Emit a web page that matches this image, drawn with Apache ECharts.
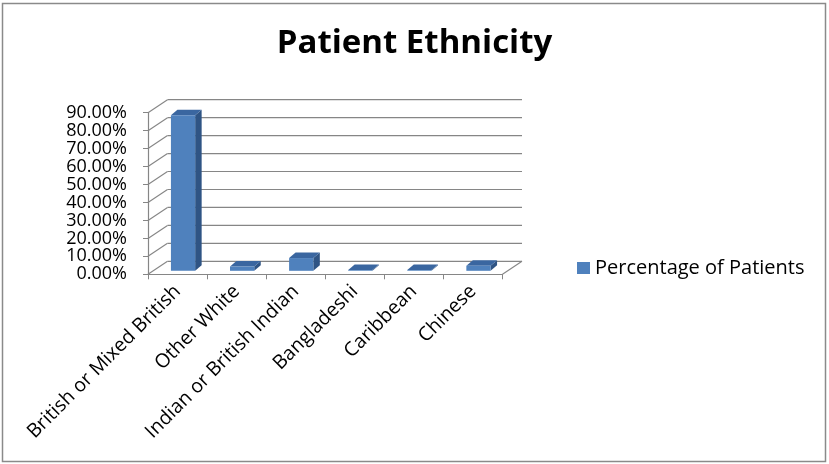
<!DOCTYPE html>
<html>
<head>
<meta charset="utf-8">
<script src="https://cdn.jsdelivr.net/npm/echarts@6/dist/echarts.min.js"></script>
<style>
html,body{margin:0;padding:0;background:#fff;}
#chart{width:829px;height:464px;}
</style>
</head>
<body>
<div id="chart"></div>
<script>
const categories = ['British or Mixed British', 'Other White', 'Indian or British Indian', 'Bangladeshi', 'Caribbean', 'Chinese'];
const values = [86.6, 2.4, 7.1, 0.4, 0.4, 2.8];
const yTicks = [0, 10, 20, 30, 40, 50, 60, 70, 80, 90];
const seriesName = 'Percentage of Patients';
const titleText = 'Patient Ethnicity';

const FONT = '"Open Sans", sans-serif';
const GRAY = '#868686';
// depth vector of the floor / walls (pixels)
const DX = 19.5, DY = -13;
// bar depth placement (pixels)
const BF = [5.5, -3.5];   // front face offset
const BB = [12, -9];      // back face offset

const chart = echarts.init(document.getElementById('chart'), null, {renderer: 'canvas'});

function wallItem(params, api) {
  const cs = params.coordSys;
  const v = api.value(1);
  const y = api.coord([0, v])[1];
  const x0 = cs.x, x1 = cs.x + cs.width;
  const style = {stroke: GRAY, lineWidth: 1.2, fill: null};
  const children = [
    {type: 'line', shape: {x1: x0, y1: y, x2: x0 + DX, y2: y + DY}, style: style},
    {type: 'line', shape: {x1: x0 + DX, y1: y + DY, x2: x1 + DX, y2: y + DY}, style: style}
  ];
  if (v === 0) {
    children.push({type: 'line', shape: {x1: x1, y1: y, x2: x1 + DX, y2: y + DY}, style: style});
  }
  return {type: 'group', children: children};
}

function barItem(params, api) {
  const i = api.value(0), v = api.value(1);
  const base = api.coord([i, 0]);
  const top = api.coord([i, v]);
  const band = api.size([1, 0])[0];
  const w = band * 0.41;
  const xl = base[0] - w / 2, xr = base[0] + w / 2;
  const yb = base[1], yt = top[1];
  const f = BF, b = BB;
  return {
    type: 'group',
    children: [
      {type: 'polygon', shape: {points: [
        [xr + f[0], yt + f[1]], [xr + b[0], yt + b[1]], [xr + b[0], yb + b[1]], [xr + f[0], yb + f[1]]
      ]}, style: {fill: '#2f5484'}},
      {type: 'polygon', shape: {points: [
        [xl + f[0], yt + f[1]], [xr + f[0], yt + f[1]], [xr + b[0], yt + b[1]], [xl + b[0], yt + b[1]]
      ]}, style: {fill: '#3a66a0'}},
      {type: 'rect', shape: {x: xl + f[0], y: yt + f[1], width: w, height: yb - yt}, style: {fill: '#4f81bd'}}
    ]
  };
}

const option = {
  animation: false,
  backgroundColor: '#fff',
  title: {
    text: titleText,
    left: 'center',
    top: 22,
    textStyle: {fontFamily: FONT, fontSize: 33, fontWeight: 'bold', color: '#000'}
  },
  legend: {
    data: [{name: seriesName, icon: 'rect'}],
    left: 572,
    top: 253,
    itemWidth: 13,
    itemHeight: 12,
    textStyle: {fontFamily: FONT, fontSize: 20, color: '#000'}
  },
  graphic: [{
    type: 'rect',
    shape: {x: 2.5, y: 3.5, width: 823, height: 458},
    style: {fill: null, stroke: '#8a8a8a', lineWidth: 1.5},
    silent: true,
    z: -10
  }],
  grid: {left: 148, top: 112.7, width: 354.5, height: 161.6},
  xAxis: {
    type: 'category',
    data: categories,
    axisLine: {lineStyle: {color: GRAY, width: 1.2}},
    axisTick: {show: true, length: 5, lineStyle: {color: GRAY}},
    axisLabel: {rotate: 45, interval: 0, margin: 14, fontFamily: FONT, fontSize: 19.5, color: '#000'},
    splitLine: {show: false}
  },
  yAxis: {
    type: 'value',
    min: 0,
    max: 90,
    interval: 10,
    axisLine: {show: true, lineStyle: {color: GRAY, width: 1.2}},
    axisTick: {show: true, length: 5, lineStyle: {color: GRAY}},
    axisLabel: {
      margin: 21,
      fontFamily: FONT,
      fontSize: 18,
      color: '#000',
      formatter: function (v) { return v.toFixed(2) + '%'; }
    },
    splitLine: {show: false}
  },
  series: [
    {
      type: 'custom',
      name: 'walls',
      renderItem: wallItem,
      data: yTicks.map(function (v) { return [0, v]; }),
      silent: true,
      z: 1
    },
    {
      type: 'custom',
      name: seriesName,
      renderItem: barItem,
      itemStyle: {color: '#4f81bd'},
      data: values.map(function (v, i) { return [i, v]; }),
      z: 2
    }
  ]
};
chart.setOption(option);
</script>
</body>
</html>
